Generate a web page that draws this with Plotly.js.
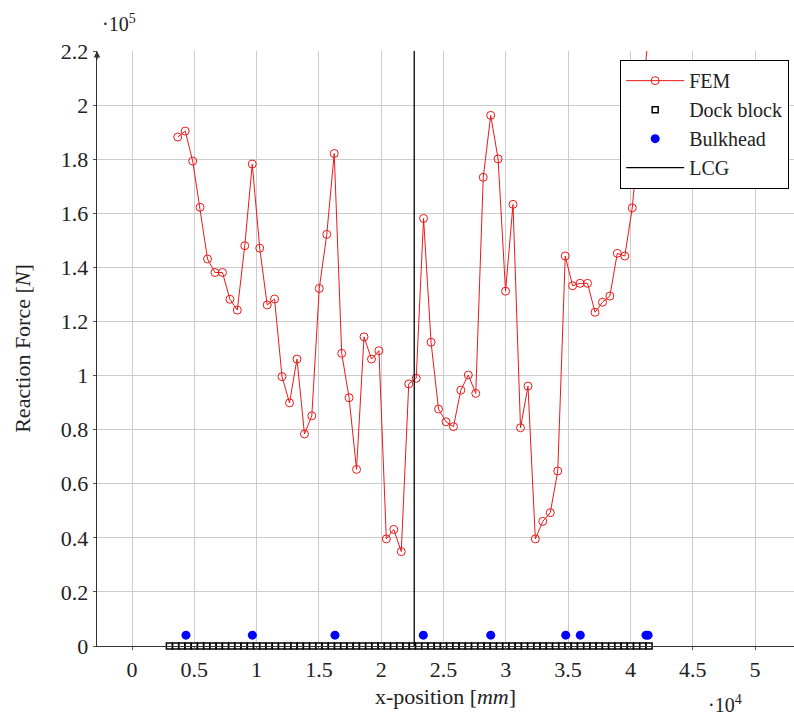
<!DOCTYPE html>
<html>
<head>
<meta charset="utf-8">
<script src="https://cdn.plot.ly/plotly-3.0.1.min.js"></script>
<style>
  html, body { margin: 0; padding: 0; background: #ffffff; }
  #chart { width: 794px; height: 715px; }
</style>
</head>
<body>
<div id="chart"></div>
<script>
// FEM reaction force along the hull (x in mm, force in N)
const femX = [3670, 4270, 4870, 5460, 6060, 6660, 7260, 7860, 8450, 9050,
  9650, 10250, 10850, 11440, 12040, 12640, 13240, 13840, 14430, 15030,
  15630, 16230, 16830, 17420, 18020, 18620, 19220, 19820, 20410, 21010,
  21610, 22210, 22810, 23400, 24000, 24600, 25200, 25800, 26390, 26990,
  27590, 28190, 28790, 29380, 29980, 30580, 31180, 31780, 32370, 32970,
  33570, 34170, 34770, 35360, 35960, 36560, 37160, 37760, 38350, 38950,
  39550, 40150, 40750, 41340];
const femForce = [188200, 190400, 179300, 162200, 143100, 138100, 138100, 128200, 124200, 148000,
  178200, 147100, 126100, 128300, 99600, 89900, 106100, 78400, 85100, 132200,
  152200, 182100, 108200, 91800, 65300, 114300, 106100, 109200, 39600, 43100,
  34900, 96900, 99000, 158100, 112300, 87600, 82900, 81100, 94600, 100200,
  93400, 173300, 196200, 180100, 131200, 163300, 80700, 96100, 39600, 46100,
  49300, 64700, 144200, 133200, 134100, 134100, 123400, 127100, 129400, 145200,
  144200, 162000, 192000, 221300];

// Dock block positions on the keel line
const dockX = [3000, 3500, 4000, 4500, 5000, 5500, 6000, 6500, 7000, 7500,
  8000, 8500, 9000, 9500, 10000, 10500, 11000, 11500, 12000, 12500,
  13000, 13500, 14000, 14500, 15000, 15500, 16000, 16500, 17000, 17500,
  18000, 18500, 19000, 19500, 20000, 20500, 21000, 21500, 22000, 22500,
  23000, 23500, 24000, 24500, 25000, 25500, 26000, 26500, 27000, 27500,
  28000, 28500, 29000, 29500, 30000, 30500, 31000, 31500, 32000, 32500,
  33000, 33500, 34000, 34500, 35000, 35500, 36000, 36500, 37000, 37500,
  38000, 38500, 39000, 39500, 40000, 40500, 41000, 41500];
const dockY = dockX.map(() => 0);

// Bulkhead positions
const bulkheadX = [4330, 9660, 16290, 23380, 28790, 34810, 35980, 41250, 41420];
const bulkheadY = bulkheadX.map(() => 4000);

// Longitudinal centre of gravity
const lcgX = 22650;
const lcgSpan = [0, 220000];

// Axis ticks (values shown scaled by 10^4 and 10^5)
const xTickVals = [0, 5000, 10000, 15000, 20000, 25000, 30000, 35000, 40000, 45000, 50000];
const xTickText = ['0', '0.5', '1', '1.5', '2', '2.5', '3', '3.5', '4', '4.5', '5'];
const yTickVals = [0, 20000, 40000, 60000, 80000, 100000, 120000, 140000, 160000, 180000, 200000, 220000];
const yTickText = ['0', '0.2', '0.4', '0.6', '0.8', '1', '1.2', '1.4', '1.6', '1.8', '2', '2.2'];

const serif = 'Liberation Serif';
const ink = '#222222';

const traces = [
  {
    name: 'FEM',
    x: femX, y: femForce,
    type: 'scatter', mode: 'lines+markers',
    line: { color: 'rgb(235,25,25)', width: 1 },
    marker: { symbol: 'circle-open', size: 8, color: 'rgb(235,25,25)', line: { width: 1 } },
    cliponaxis: false
  },
  {
    name: 'Dock block',
    x: dockX, y: dockY,
    type: 'scatter', mode: 'markers',
    marker: { symbol: 'square', size: 6, color: '#ffffff', line: { color: '#000000', width: 1.5 } },
    cliponaxis: false
  },
  {
    name: 'Bulkhead',
    x: bulkheadX, y: bulkheadY,
    type: 'scatter', mode: 'markers',
    marker: { symbol: 'circle', size: 9, color: 'rgb(0,0,255)' },
    cliponaxis: false
  },
  {
    name: 'LCG',
    x: [lcgX, lcgX], y: lcgSpan,
    type: 'scatter', mode: 'lines',
    line: { color: '#000000', width: 1.3 }
  }
];

const layout = {
  width: 794, height: 715,
  margin: { l: 97, r: 0, t: 51, b: 69 },
  paper_bgcolor: '#ffffff',
  plot_bgcolor: '#ffffff',
  font: { family: serif, size: 22, color: ink },
  showlegend: true,
  legend: {
    x: 0.9928, xanchor: 'right',
    y: 0.985, yanchor: 'top',
    bgcolor: '#ffffff',
    bordercolor: '#000000', borderwidth: 1.2,
    font: { family: serif, size: 20, color: ink },
    itemwidth: 58,
    tracegroupgap: 0
  },
  xaxis: {
    range: [-2810, 53130],
    tickvals: xTickVals, ticktext: xTickText,
    showgrid: true, gridcolor: '#cccccc', gridwidth: 1,
    zeroline: false,
    showline: true, linecolor: '#333333', linewidth: 1.3,
    ticks: 'outside', ticklen: 3, tickcolor: '#555555',
    tickfont: { family: serif, size: 22, color: ink },
    title: { text: 'x-position [<i>mm</i>]', font: { family: serif, size: 22, color: ink }, standoff: 8 }
  },
  yaxis: {
    range: [0, 220000],
    tickvals: yTickVals, ticktext: yTickText,
    showgrid: true, gridcolor: '#cccccc', gridwidth: 1,
    zeroline: false,
    showline: true, linecolor: '#333333', linewidth: 1.3,
    ticks: 'outside', ticklen: 3, tickcolor: '#555555',
    tickfont: { family: serif, size: 22, color: ink },
    title: { text: 'Reaction Force [<i>N</i>]', font: { family: serif, size: 22, color: ink }, standoff: 24 }
  },
  annotations: [
    {
      text: '·10<sup>5</sup>', xref: 'paper', yref: 'paper',
      x: 0.004, y: 1.07, showarrow: false,
      font: { family: serif, size: 20, color: ink }
    },
    {
      text: '·10<sup>4</sup>', xref: 'paper', yref: 'paper',
      x: 0.928, y: -0.121, showarrow: false,
      font: { family: serif, size: 20, color: ink }
    },
    {
      text: '', xref: 'paper', yref: 'paper', x: 0, y: 1,
      showarrow: true, ax: 0, ay: 10, arrowhead: 2, arrowsize: 1,
      arrowwidth: 1.3, arrowcolor: '#333333'
    }
  ]
};

Plotly.newPlot('chart', traces, layout, { displayModeBar: false, staticPlot: true });
</script>
</body>
</html>
